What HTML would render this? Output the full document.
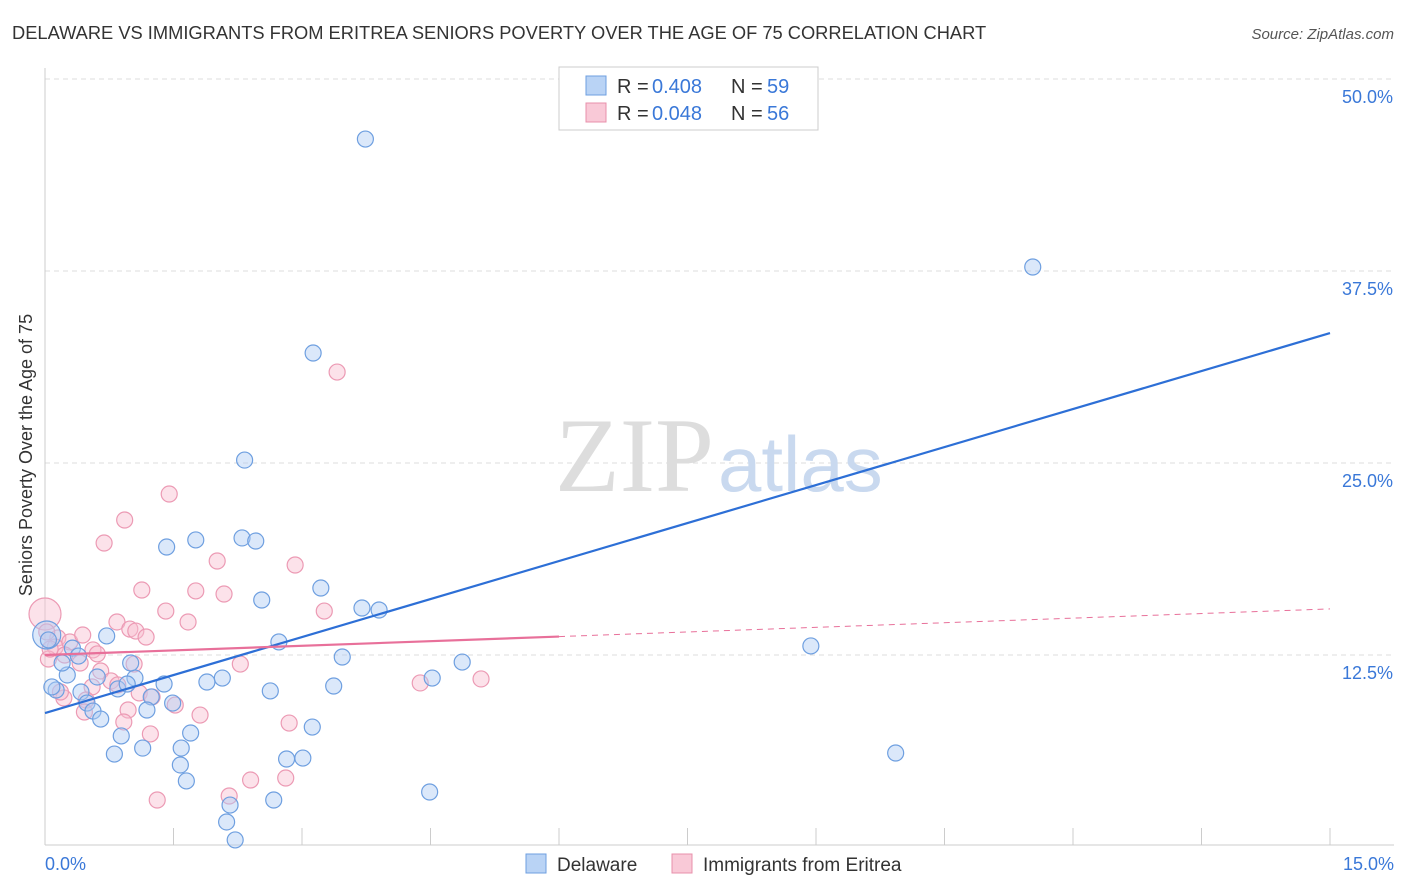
<!DOCTYPE html>
<html><head><meta charset="utf-8">
<style>
body{margin:0;background:#fff;font-family:"Liberation Sans",sans-serif;}
svg{display:block}
</style></head>
<body>
<svg id="chart" width="1406" height="892">
<text x="12" y="39" font-size="18.3" fill="#333">DELAWARE VS IMMIGRANTS FROM ERITREA SENIORS POVERTY OVER THE AGE OF 75 CORRELATION CHART</text>
<text x="1394" y="39" font-size="15" fill="#555" font-style="italic" text-anchor="end">Source: ZipAtlas.com</text>
<text x="32" y="455" font-size="18" fill="#333" text-anchor="middle" transform="rotate(-90 32 455)">Seniors Poverty Over the Age of 75</text>
<g id="grid"></g>
<text x="714" y="491" font-size="106" fill="#ddd" text-anchor="end" font-family="Liberation Serif">ZIP</text>
<text x="718" y="491" font-size="78" fill="#c9d9ef">atlas</text>
<g id="pts"></g>
<g id="lines"></g>
<g>
<rect x="559" y="67" width="259" height="63" fill="#fff" stroke="#ccc"/>
<rect x="586" y="76" width="20" height="19" fill="#b9d3f5" stroke="#6e9fe0"/>
<text y="93" font-size="20" fill="#333"><tspan x="617">R =</tspan><tspan x="652" fill="#3a78d8">0.408</tspan><tspan x="731">N =</tspan><tspan x="767" fill="#3a78d8">59</tspan></text>
<rect x="586" y="103" width="20" height="19" fill="#f9c9d7" stroke="#e890ab"/>
<text y="120" font-size="20" fill="#333"><tspan x="617">R =</tspan><tspan x="652" fill="#3a78d8">0.048</tspan><tspan x="731">N =</tspan><tspan x="767" fill="#3a78d8">56</tspan></text>
</g>
<g>
<rect x="526" y="854" width="20" height="19" fill="#b9d3f5" stroke="#6e9fe0"/>
<text x="557" y="871" font-size="19" fill="#333">Delaware</text>
<rect x="672" y="854" width="20" height="19" fill="#f9c9d7" stroke="#e890ab"/>
<text x="703" y="871" font-size="19" fill="#333">Immigrants from Eritrea</text>
</g>
</svg>
<script>
const xTicks=[0,1.5,3,4.5,6,7.5,9,10.5,12,13.5,15];
const yTicks=[12.5,25,37.5,50];
const yTickLabels=["12.5%","25.0%","37.5%","50.0%"];
const blueX=[3.74,11.53,3.13,2.33,1.42,1.76,2.30,2.46,2.53,3.22,3.70,3.90,2.73,3.47,4.87,8.94,4.52,3.37,2.63,2.07,1.89,1.39,1.05,1.00,0.72,0.32,0.26,0.13,0.08,0.42,0.61,0.85,0.96,1.24,1.19,1.49,0.49,0.56,0.65,0.89,1.70,1.59,1.14,0.81,3.12,1.58,1.65,2.82,3.01,9.93,4.49,2.67,2.16,2.12,2.22,0.02,0.04,0.39,0.20];
const blueY=[46.09,37.76,32.16,25.19,19.53,19.99,20.12,19.92,16.08,16.86,15.56,15.43,13.35,12.37,12.04,13.09,11.00,10.48,10.16,11.00,10.74,10.61,11.00,11.98,13.74,12.95,11.20,10.22,10.42,10.09,11.07,10.29,10.61,9.77,8.92,9.37,9.37,8.85,8.33,7.23,7.42,6.44,6.44,6.05,7.81,5.34,4.30,5.73,5.79,6.12,3.58,3.06,2.73,1.63,0.46,13.80,13.48,12.43,11.98];
const pinkX=[3.41,1.45,0.93,0.69,2.01,2.92,1.13,1.76,2.09,1.41,3.26,0.84,1.67,0.99,1.06,1.18,0.00,0.15,0.12,0.29,0.44,0.56,0.23,0.41,0.61,0.65,1.04,0.77,0.85,0.55,1.10,1.25,1.52,0.48,0.22,0.18,0.97,0.46,1.81,2.85,0.92,1.23,2.28,4.38,5.09,2.15,2.40,2.81,1.31,0.04,0.06,0.02];
const pinkY=[30.92,22.98,21.29,19.79,18.62,18.36,16.73,16.67,16.47,15.36,15.36,14.65,14.65,14.19,14.06,13.67,15.17,13.61,13.02,13.35,13.80,12.83,12.50,11.98,12.57,11.46,11.91,10.81,10.55,10.42,10.03,9.77,9.24,9.57,9.70,10.09,8.92,8.79,8.59,8.07,8.14,7.36,11.91,10.68,10.94,3.32,4.36,4.49,3.06,12.24,12.89,14.00];
const blueLine=[8.72,33.46];
const pinkLine=[12.5,15.5];
const pinkSolidEnd=6.0;
const NS="http://www.w3.org/2000/svg";
const X=v=>45+v/15*1285, Y=v=>847-v/50*768;
function mk(t,a,p){const e=document.createElementNS(NS,t);for(const k in a)e.setAttribute(k,a[k]);p.appendChild(e);return e;}
const grid=document.getElementById('grid');
yTicks.forEach((t,i)=>{
 const l=mk('line',{x1:45,x2:1394,y1:Y(t),y2:Y(t),stroke:'#ddd','stroke-dasharray':'5,4'},grid);
 
 
 const tx=mk('text',{x:1393,y:Y(t)+24,'font-size':18,fill:'#3a78d8','text-anchor':'end'},grid);tx.textContent=yTickLabels[i];
 
 
});
mk('line',{x1:45,x2:1394,y1:845,y2:845,stroke:'#ccc'},grid);
mk('line',{x1:45,x2:45,y1:68,y2:845,stroke:'#ccc'},grid);
xTicks.forEach(t=>{const l=mk('line',{x1:X(t),x2:X(t),y1:828,y2:845,stroke:'#ccc'},grid);
 
 });
let a=mk('text',{x:45,y:870,'font-size':18,fill:'#3a78d8'},grid);a.textContent='0.0%';


a=mk('text',{x:1394,y:870,'font-size':18,fill:'#3a78d8','text-anchor':'end'},grid);a.textContent='15.0%';


const pts=document.getElementById('pts');
pinkX.forEach((x,i)=>{const c=mk('circle',{cx:X(x),cy:Y(pinkY[i]),r:i==16?16:8,fill:'rgba(249,190,208,0.45)',stroke:'#ec9ab4','stroke-width':1.2},pts);
 
 });
blueX.forEach((x,i)=>{const c=mk('circle',{cx:X(x),cy:Y(blueY[i]),r:i==55?14:8,fill:'rgba(175,204,243,0.45)',stroke:'#6e9fe0','stroke-width':1.2},pts);
 
 });
const lines=document.getElementById('lines');
let l=mk('line',{x1:X(0),y1:Y(blueLine[0]),x2:X(15),y2:Y(blueLine[1]),stroke:'#2d6fd6','stroke-width':2.2},lines);


const pm=(x)=>pinkLine[0]+(pinkLine[1]-pinkLine[0])*x/15;
l=mk('line',{x1:X(0),y1:Y(pm(0)),x2:X(pinkSolidEnd),y2:Y(pm(pinkSolidEnd)),stroke:'#e8709a','stroke-width':2.2},lines);


l=mk('line',{x1:X(pinkSolidEnd),y1:Y(pm(pinkSolidEnd)),x2:X(15),y2:Y(pm(15)),stroke:'#e8709a','stroke-width':1,'stroke-dasharray':'6,5'},lines);


</script>
</body></html>
